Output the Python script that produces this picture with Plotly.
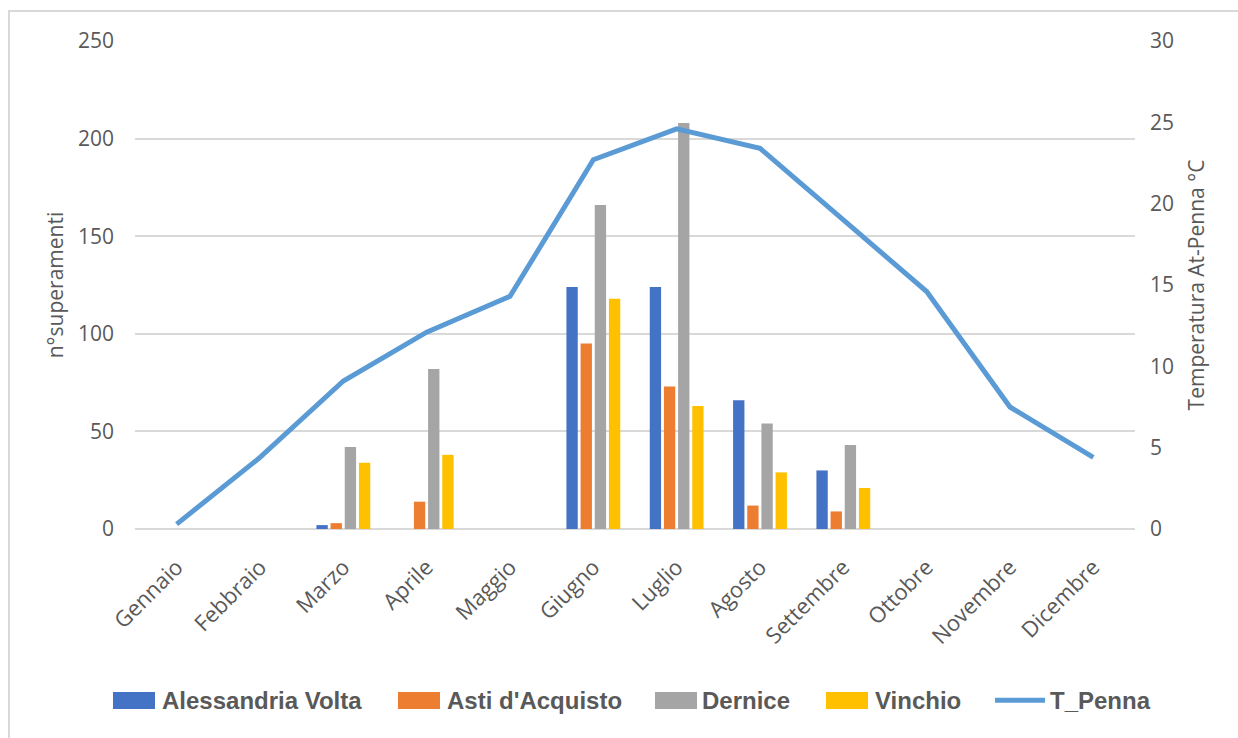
import plotly.graph_objects as go

# Months on the category axis
mesi = ["Gennaio", "Febbraio", "Marzo", "Aprile", "Maggio", "Giugno",
        "Luglio", "Agosto", "Settembre", "Ottobre", "Novembre", "Dicembre"]

# Number of exceedances per station
alessandria_volta = [0, 0, 2, 0, 0, 124, 124, 66, 30, 0, 0, 0]
asti_acquisto = [0, 0, 3, 14, 0, 95, 73, 12, 9, 0, 0, 0]
dernice = [0, 0, 42, 82, 0, 166, 208, 54, 43, 0, 0, 0]
vinchio = [0, 0, 34, 38, 0, 118, 63, 29, 21, 0, 0, 0]

# Monthly mean temperature at Asti-Penna (°C)
t_penna = [0.3, 4.4, 9.1, 12.1, 14.3, 22.7, 24.6, 23.4, 19.0, 14.6, 7.5, 4.4]

FONT = "Open Sans, DejaVu Sans, sans-serif"
LEG_FONT = "Liberation Sans, Arial, sans-serif"
TXT = "#595959"
GRID = "#D9D9D9"
LINE_COL = "#5B9BD5"

fig = go.Figure()

bar_series = [
    ("Alessandria Volta", alessandria_volta, "#4472C4"),
    ("Asti d'Acquisto", asti_acquisto, "#ED7D31"),
    ("Dernice", dernice, "#A5A5A5"),
    ("Vinchio", vinchio, "#FFC000"),
]
for name, vals, col in bar_series:
    fig.add_trace(go.Bar(x=mesi, y=vals, name=name, marker_color=col,
                         marker_line_width=0, yaxis="y", showlegend=False))

fig.add_trace(go.Scatter(x=mesi, y=t_penna, name="T_Penna", mode="lines",
                         line=dict(color=LINE_COL, width=5), yaxis="y2",
                         showlegend=False))

# Legend drawn below the plot: swatch box (x0, x1) and label start, in paper units
shapes = [dict(type="rect", xref="paper", yref="paper",
               x0=-0.126, x1=1.2, y0=-0.6, y1=1.0615,
               line=dict(color=GRID, width=2), layer="below")]
annotations = []
swatch_x = [(-0.022, 0.020), (0.263, 0.305), (0.520, 0.562), (0.691, 0.733)]
label_x = [0.025, 0.310, 0.565, 0.738]
for (name, _, col), (sx0, sx1), lx in zip(bar_series, swatch_x, label_x):
    shapes.append(dict(type="rect", xref="paper", yref="paper",
                       x0=sx0, x1=sx1, y0=-0.369, y1=-0.334,
                       fillcolor=col, line=dict(width=0)))
    annotations.append(dict(text=name, xref="paper", yref="paper", x=lx, y=-0.351,
                            xanchor="left", yanchor="middle", showarrow=False,
                            font=dict(size=24, color=TXT, family=LEG_FONT, weight="bold")))
shapes.append(dict(type="line", xref="paper", yref="paper",
                   x0=0.860, x1=0.910, y0=-0.351, y1=-0.351,
                   line=dict(color=LINE_COL, width=5)))
annotations.append(dict(text="T_Penna", xref="paper", yref="paper", x=0.913, y=-0.351,
                        xanchor="left", yanchor="middle", showarrow=False,
                        font=dict(size=24, color=TXT, family=LEG_FONT, weight="bold")))

fig.update_layout(
    width=1238, height=738,
    margin=dict(l=135, r=103, t=41, b=209),
    paper_bgcolor="white", plot_bgcolor="white",
    barmode="group", bargap=0.32, bargroupgap=0.2,
    font=dict(family=FONT, color=TXT),
    showlegend=False,
    xaxis=dict(
        tickangle=-45, tickfont=dict(size=22, color=TXT, family=FONT),
        showgrid=False, showline=False, ticks="", ticklabelstandoff=20,
    ),
    yaxis=dict(
        range=[0, 250], tickvals=[0, 50, 100, 150, 200, 250],
        tickfont=dict(size=21, color=TXT, family=FONT),
        gridcolor=GRID, gridwidth=2, zeroline=True, zerolinecolor=GRID,
        zerolinewidth=2, ticks="", ticklabelstandoff=20,
        title=dict(text="n°superamenti", font=dict(size=21, color=TXT, family=FONT),
                   standoff=8),
    ),
    yaxis2=dict(
        range=[0, 30], tickvals=[0, 5, 10, 15, 20, 25, 30],
        overlaying="y", side="right", showgrid=False, zeroline=False,
        tickfont=dict(size=21, color=TXT, family=FONT),
        ticks="", ticklabelstandoff=14,
        title=dict(text="Temperatura At-Penna °C",
                   font=dict(size=21, color=TXT, family=FONT), standoff=16),
    ),
    shapes=shapes,
    annotations=annotations,
)

fig.write_html("out.html")
